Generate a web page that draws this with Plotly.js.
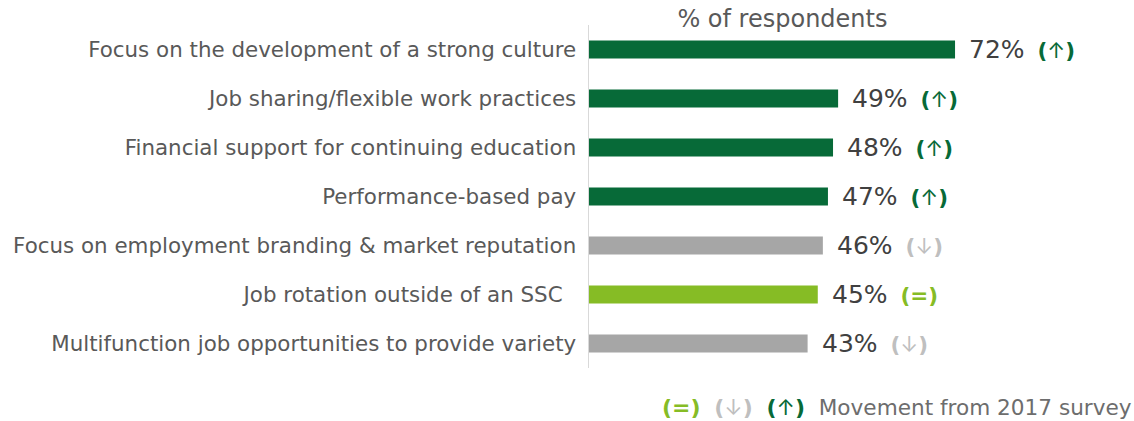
<!DOCTYPE html>
<html>
<head>
<meta charset="utf-8">
<script src="https://cdn.plot.ly/plotly-3.0.1.min.js"></script>
<style>html,body{margin:0;padding:0;background:#fff;}#chart{width:1134px;height:421px;}</style>
</head>
<body>
<div id="chart"></div>
<script>
const categories = [
  "Focus on the development of a strong culture",
  "Job sharing/flexible work practices",
  "Financial support for continuing education",
  "Performance-based pay",
  "Focus on employment branding & market reputation",
  "Job rotation outside of an SSC\u00a0\u00a0",
  "Multifunction job opportunities to provide variety"
];
const values = [72, 49, 48, 47, 46, 45, 43];
const movement = ["up", "up", "up", "up", "down", "same", "down"];

const DARK = "#076a38", LIGHT = "#86bc25", GRAY = "#a6a6a6", GRAYTXT = "#bfbfbf";
const barColor = {up: DARK, same: LIGHT, down: GRAY};
const markColor = {up: DARK, same: LIGHT, down: GRAYTXT};
const markSym = {up: "\u2191", same: "=", down: "\u2193"};

function mark(m, size) {
  const c = markColor[m];
  const p = "<b><span style='color:" + c + ";font-size:" + size + "px'>";
  const mid = m === "same"
    ? "<b><span style='color:" + c + ";font-size:" + size + "px'>=</span></b>"
    : "<span style='color:" + c + ";font-size:" + size + "px;font-family:Inter'>" + markSym[m] + "</span>";
  return p + "(</span></b>" + mid + p + ")</span></b>";
}

const trace = {
  type: "bar",
  orientation: "h",
  y: categories,
  x: values,
  marker: {color: movement.map(m => barColor[m])},
  width: 0.37,
  hoverinfo: "skip"
};

const annotations = values.map((v, i) => ({
  x: v, y: categories[i], xref: "x", yref: "y",
  xanchor: "left", yanchor: "middle", xshift: 12, showarrow: false,
  text: v + "%\u00a0\u2009" + mark(movement[i], 21.5),
  font: {family: "DejaVu Sans", size: 25, color: "#404040"}
}));

annotations.push({
  xref: "paper", yref: "paper", x: 1, y: -0.114, xanchor: "right", yanchor: "middle",
  showarrow: false,
  text: mark("same", 22) + "\u00a0 " + mark("down", 22) + "\u00a0 " + mark("up", 22) + "\u00a0 Movement from 2017 survey",
  font: {family: "DejaVu Sans", size: 21.6, color: "#6d6d6d"}
});

const layout = {
  width: 1134, height: 421,
  margin: {l: 589, r: 0, t: 25, b: 53},
  paper_bgcolor: "#fff", plot_bgcolor: "#fff",
  showlegend: false,
  title: {text: "% of respondents", x: 0.69, xanchor: "center", y: 0.957, yanchor: "middle",
          font: {family: "DejaVu Sans", size: 24, color: "#595959"}},
  xaxis: {range: [0, 107.2], visible: false, fixedrange: true},
  yaxis: {
    categoryorder: "array", categoryarray: categories, autorange: "reversed",
    showline: true, linecolor: "#d9d9d9", linewidth: 1.5,
    showgrid: false, zeroline: false, ticks: "", ticklabelstandoff: 7,
    tickfont: {family: "DejaVu Sans", size: 21.4, color: "#595959"}
  },
  annotations: annotations
};

Plotly.newPlot("chart", [trace], layout, {displayModeBar: false, staticPlot: true});
</script>
</body>
</html>
